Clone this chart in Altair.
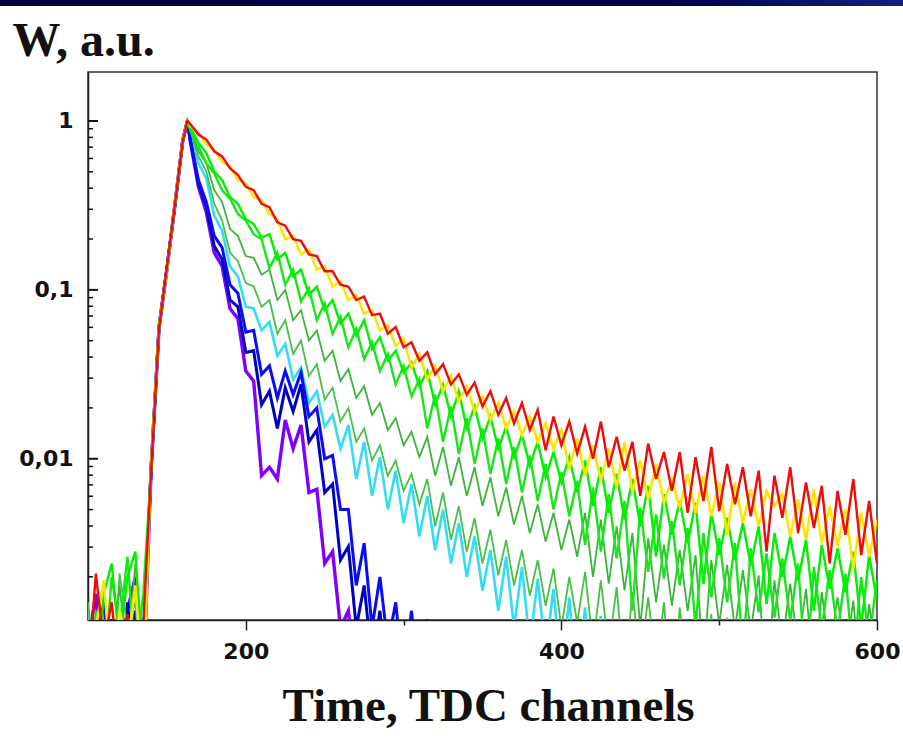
import altair as alt
import pandas as pd

# ---- data (log10 of W, in hundredths) ----
X_RISE = [100, 105, 110, 115, 120, 125, 130, 135, 140, 145, 150, 155, 160, 163]
X_TAIL = list(range(165, 601, 5))

RED_RISE = [-330, -268, -310, -285, -330, -292, -340, -300, -207, -123, -87, -50, -12, 0]
RED_TAIL = [-2, -8, -11, -18, -21, -28, -32, -39, -41, -49,
            -51, -60, -62, -70, -71, -79, -80, -89, -89, -97,
            -98, -106, -104, -115, -114, -126, -122, -134, -131, -142,
            -137, -150, -144, -156, -150, -162, -155, -169, -160, -174,
            -164, -179, -167, -183, -171, -195, -175, -192, -178, -197,
            -181, -200, -178, -205, -187, -207, -190, -222, -191, -212,
            -196, -219, -196, -232, -199, -225, -193, -231, -203, -227,
            -205, -234, -207, -255, -210, -235, -205, -244, -214, -241,
            -216, -262, -219, -245, -212, -257, -225, -262]

YEL_RISE = [-340, -300, -272, -330, -290, -312, -275, -335, -203, -121, -89, -49, -11, 0]
YEL_TAIL = [-3, -7, -14, -17, -24, -27, -35, -37, -45, -47,
            -55, -58, -70, -68, -79, -76, -88, -86, -98, -95,
            -106, -103, -114, -112, -124, -121, -133, -129, -146, -138,
            -153, -145, -160, -151, -166, -157, -172, -163, -177, -167,
            -182, -172, -186, -175, -190, -179, -194, -183, -206, -188,
            -210, -192, -213, -194, -217, -190, -220, -201, -224, -203,
            -226, -212, -229, -209, -232, -210, -234, -214, -245, -214,
            -238, -218, -240, -219, -228, -221, -246, -224, -248, -218,
            -250, -228, -252, -230, -265, -232, -258, -236]

GRA_RISE = [-305, -340, -280, -262, -310, -270, -255, -330, -205, -122, -88, -51, -12, 0]
GRA_TAIL = [-4, -13, -19, -30, -35, -45, -49, -58, -61, -69,
            -67, -82, -78, -92, -88, -103, -98, -112, -106, -120,
            -114, -127, -118, -135, -128, -142, -136, -149, -143, -157,
            -148, -168, -156, -175, -160, -182, -169, -188, -175, -194,
            -181, -199, -186, -204, -190, -211, -196, -214, -199, -220,
            -201, -228, -205, -232, -209, -236, -212, -240, -216, -258,
            -221, -245, -225, -250, -226, -274, -232, -257, -235, -260,
            -238, -263, -240, -286, -244, -270, -246, -272, -248, -290,
            -251, -277, -253, -279, -255, -300, -257, -284]

GRB_RISE = [-350, -290, -330, -270, -300, -258, -320, -280, -206, -124, -88, -50, -13, 0]
GRB_TAIL = [-6, -15, -25, -31, -41, -46, -55, -59, -67, -70,
            -87, -78, -97, -88, -107, -99, -118, -108, -126, -116,
            -134, -123, -141, -131, -148, -138, -156, -145, -163, -153,
            -182, -162, -190, -169, -197, -176, -203, -182, -209, -188,
            -215, -193, -220, -198, -225, -203, -230, -208, -234, -213,
            -251, -217, -255, -221, -259, -225, -290, -229, -267, -233,
            -271, -237, -275, -241, -300, -244, -282, -247, -285, -250,
            -315, -253, -291, -256, -294, -259, -296, -262, -330, -264,
            -301, -266, -303, -268, -320, -270, -307, -272]

MGA_RISE = [-320, -345, -295, -330, -275, -320, -262, -310, -204, -122, -87, -50, -12, 0]
MGA_TAIL = [-5, -18, -25, -41, -48, -64, -68, -80, -81, -91,
            -88, -106, -100, -118, -112, -130, -124, -142, -136, -154,
            -147, -164, -157, -174, -167, -183, -176, -192, -184, -199,
            -187, -210, -193, -216, -199, -222, -205, -228, -211, -234,
            -217, -239, -222, -244, -227, -249, -232, -254, -236, -258,
            -232, -270, -236, -274, -240, -278, -244, -300, -247, -285,
            -251, -287, -254, -290, -257, -320, -260, -298, -263, -301,
            -266, -302, -269, -340, -272, -309, -274, -312, -277, -330,
            -279, -315, -282, -318, -284, -335, -286, -323]

MGB_RISE = [-285, -330, -300, -345, -268, -300, -285, -340, -205, -123, -88, -51, -12, 0]
MGB_TAIL = [-6, -21, -30, -49, -59, -78, -83, -96, -98, -110,
            -106, -126, -118, -138, -130, -151, -144, -165, -158, -178,
            -170, -190, -182, -201, -192, -210, -201, -219, -209, -227,
            -212, -240, -220, -248, -228, -255, -235, -262, -242, -269,
            -248, -275, -254, -281, -260, -287, -265, -300, -270, -297,
            -267, -310, -272, -313, -276, -330, -279, -320, -282, -323,
            -285, -345, -288, -328, -290, -330, -292, -360, -294, -334,
            -296, -336, -298, -338, -300, -370, -302, -341, -303, -343,
            -305, -345, -306, -380, -308, -348, -310, -350]

CYA_RISE = [-290, -340, -320, -300, -335, -310, -345, -300, -207, -122, -89, -50, -12, 0]
CYA_TAIL = [-8, -25, -34, -56, -65, -86, -92, -110, -111, -124,
            -119, -139, -132, -153, -146, -167, -160, -181, -174, -194,
            -180, -212, -190, -222, -199, -230, -207, -238, -215, -246,
            -222, -254, -230, -262, -238, -270, -246, -278, -254, -290,
            -258, -300, -264, -310, -271, -315, -277, -330, -282, -340,
            -288, -350, -293, -360, -298, -380]

BLU_RISE = [-335, -310, -285, -340, -300, -330, -290, -320, -206, -121, -88, -50, -11, 0]
BLU_TAIL = [-12, -35, -48, -68, -75, -97, -102, -125, -124, -150,
            -145, -164, -148, -162, -149, -175, -170, -200, -198, -230,
            -230, -275, -250, -300, -270, -310, -285, -330, -290, -340,
            -295, -350, -300, -360, -310, -380]

NAV_RISE = [-340, -300, -330, -295, -345, -285, -335, -310, -205, -122, -87, -51, -12, 0]
NAV_TAIL = [-12, -37, -51, -74, -82, -106, -110, -137, -136, -168,
            -160, -182, -158, -172, -156, -190, -183, -220, -215, -260,
            -252, -300, -275, -320, -290, -340, -300, -360, -310, -380]

VIO_RISE = [-310, -280, -340, -300, -325, -290, -270, -335, -206, -123, -88, -50, -12, 0]
VIO_TAIL = [-13, -39, -54, -78, -86, -111, -117, -148, -154, -210,
            -205, -212, -177, -194, -180, -220, -218, -262, -255, -300,
            -290, -330, -310, -350, -340]

# drawing order: first listed is drawn first (underneath); last item = stroke width
CURVES = [
    ("cyan", "#33dcf5", CYA_RISE, CYA_TAIL, 2.6),
    ("violet", "#7f00ff", VIO_RISE, VIO_TAIL, 3.4),
    ("navy", "#0000c0", NAV_RISE, NAV_TAIL, 3.0),
    ("blue", "#0a0aff", BLU_RISE, BLU_TAIL, 3.0),
    ("green4", "#48c048", MGB_RISE, MGB_TAIL, 1.8),
    ("green3", "#3cb43c", MGA_RISE, MGA_TAIL, 1.8),
    ("green2", "#19e619", GRB_RISE, GRB_TAIL, 2.4),
    ("green1", "#00f000", GRA_RISE, GRA_TAIL, 2.4),
    ("yellow", "#ffe600", YEL_RISE, YEL_TAIL, 2.6),
    ("red", "#f00a0a", RED_RISE, RED_TAIL, 2.4),
]

Y_MAJOR = [0.01, 0.1, 1]
Y_MINOR = [0.002, 0.003, 0.004, 0.005, 0.006, 0.007, 0.008, 0.009,
           0.02, 0.03, 0.04, 0.05, 0.06, 0.07, 0.08, 0.09,
           0.2, 0.3, 0.4, 0.5, 0.6, 0.7, 0.8, 0.9]
X_TICKS = [200, 300, 400, 500, 600]

rows = []
for name, col, rise, tail, sw in CURVES:
    xs = X_RISE + X_TAIL[:len(tail)]
    for x, e in zip(xs, rise + tail):
        rows.append({"curve": name, "x": x, "w": 10 ** (e / 100.0)})
df = pd.DataFrame(rows)

tick_rows = [{"curve": "tickmajor", "x": 100, "w": v} for v in Y_MAJOR] + \
            [{"curve": "tickminor", "x": 100, "w": v} for v in Y_MINOR]
tdf = pd.DataFrame(tick_rows)

W, H = 789, 548
yscale = alt.Scale(type="log", domain=[0.00111, 1.95], nice=False)
xscale = alt.Scale(domain=[100, 600], nice=False, zero=False)

x_axis = alt.Axis(
    values=X_TICKS,
    labelExpr="datum.value % 200 == 0 ? datum.label : ''",
    tickSize={"condition": {"test": "datum.value % 200 == 0", "value": 10}, "value": 5},
    tickWidth=1.5, tickColor="#222", domainColor="#222", domainWidth=1.5,
    grid=False, labelFlush=False, labelOverlap=False,
    labelFont="DejaVu Sans", labelFontWeight="bold", labelFontSize=22,
    labelColor="#111", labelPadding=11,
    title="Time, TDC channels", titleFont="Liberation Serif", titleFontSize=47,
    titleFontWeight="bold", titleColor="#111", titleX=400, titleY=100,
    titleAlign="center", titleBaseline="alphabetic",
)
y_axis = alt.Axis(
    values=Y_MAJOR,
    labelExpr="datum.value > 0.5 ? '1' : (datum.value > 0.05 ? '0,1' : '0,01')",
    ticks=False, tickSize=0, grid=False, domainColor="#222", domainWidth=1.5,
    labelFlush=False, labelOverlap=False,
    labelFont="DejaVu Sans", labelFontWeight="bold", labelFontSize=22,
    labelColor="#111", labelPadding=15,
    title="W, a.u.", titleAngle=0, titleAlign="left", titleBaseline="alphabetic",
    titleX=-76, titleY=-17, titleFont="Liberation Serif", titleFontSize=48,
    titleFontWeight="bold", titleColor="#111",
)

base = alt.Chart(df)
layers = []
for name, col, rise, tail, sw in CURVES:
    layers.append(
        base.transform_filter(alt.datum.curve == name)
        .mark_line(color=col, strokeWidth=sw, clip=True)
        .encode(
            x=alt.X("x:Q", scale=xscale, axis=x_axis),
            y=alt.Y("w:Q", scale=yscale, axis=y_axis),
        )
    )

# inward-pointing y ticks (major and minor), positioned through the scales
tbase = alt.Chart(tdf)
major_ticks = tbase.transform_filter(alt.datum.curve == "tickmajor").mark_rule(
    color="#111", strokeWidth=2
).encode(
    x=alt.X("x:Q", scale=xscale, axis=x_axis),
    x2=alt.value(10),
    y=alt.Y("w:Q", scale=yscale, axis=y_axis),
)
minor_ticks = tbase.transform_filter(alt.datum.curve == "tickminor").mark_rule(
    color="#111", strokeWidth=1.5
).encode(
    x=alt.X("x:Q", scale=xscale, axis=x_axis),
    x2=alt.value(5),
    y=alt.Y("w:Q", scale=yscale, axis=y_axis),
)

header = alt.Chart(pd.DataFrame({"k": [0]})).mark_rect(
    clip=False, strokeWidth=0,
    fill=alt.LinearGradient(
        gradient="linear", x1=0, x2=1, y1=0, y2=0,
        stops=[alt.GradientStop(color="#000040", offset=0),
               alt.GradientStop(color="#000050", offset=0.75),
               alt.GradientStop(color="#14207a", offset=1)]),
).encode(x=alt.value(-88), x2=alt.value(815), y=alt.value(-72), y2=alt.value(-66))

chart = alt.layer(header, *layers, major_ticks, minor_ticks).properties(
    width=W, height=H,
    autosize=alt.AutoSizeParams(type="none"),
    padding={"left": 88, "top": 72, "right": 26, "bottom": 130},
    background="white",
).configure_view(stroke="#333", strokeWidth=1.5)

chart.save("out.html", embed_options={"renderer": "svg", "actions": False})
